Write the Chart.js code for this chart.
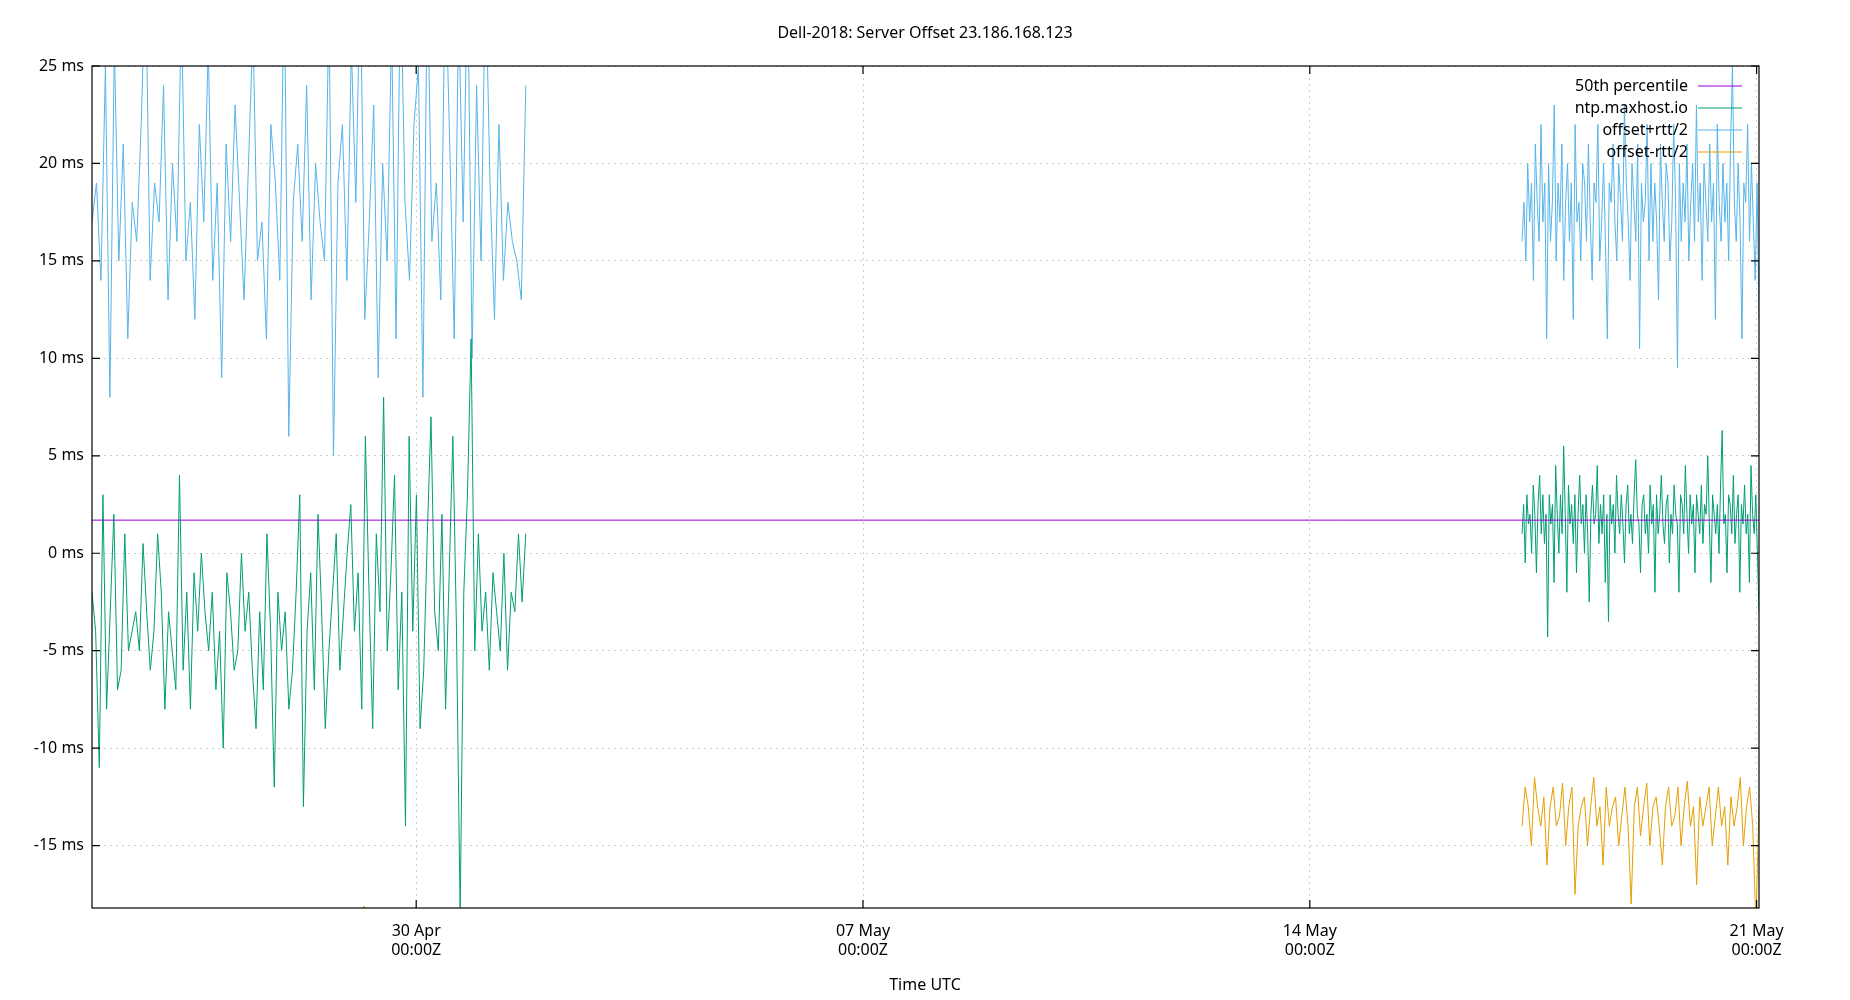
<!DOCTYPE html>
<html><head><meta charset="utf-8">
<script src="https://cdn.jsdelivr.net/npm/chart.js@4"></script>
<style>html,body{margin:0;background:#fff}</style></head>
<body><canvas id="c" width="1850" height="1000"></canvas>
<script>
// x in hours relative to 30 Apr 00:00Z
const xMin = -121.9, xMax = 504.9;
const xTicks = [0, 168, 336, 504];
const xTickLabels = [["30 Apr","00:00Z"],["07 May","00:00Z"],["14 May","00:00Z"],["21 May","00:00Z"]];
const yTicks = [-15,-10,-5,0,5,10,15,20,25];
const leftSpan = [-121.9, 41.2], rightSpan = [415.8, 504.9];
const median = 1.7;

const offsetLeft = [-2,-4,-11,3,-8,-3,2,-7,-6,1,-5,-4,-3,-5,0.5,-3,-6,-4,1,-2,-8,-3,-5,-7,4,-6,-2,-8,-1,-4,0,-3,-5,-2,-7,-4,-10,-1,-3,-6,-5,0,-4,-2,-6,-9,-3,-7,1,-4,-12,-2,-5,-3,-8,
 -6,-2,3,-13,-4,-1,-7,2,-3,-9,-5,-2,1,-6,-3,0,2.5,-4,-1,-8,6,-2,-9,1,-3,8,-5,-1,4,-7,-2,-14,6,-4,3,-9,-6,1,7,-3,-5,2,-8,-1,6,-4,-18.5,-2,3,11,-5,1,-4,-2,-6,-1,-3,-5,0,-6,-2,-3,1,-2.5,1];
const plusLeft = [17,19,14,25,8,26,15,21,11,18,16,22,30,14,19,17,24,13,20,16,28,15,18,12,22,17,26,14,19,9,21,16,23,18,13,20,27,15,17,11,22,19,14,30,6,18,21,16,24,13,20,17,15,28,5,19,22,14,26,18,30,12,17,23,9,20,15,27,11,30,18,14,22,25,8,30,16,19,13,30,21,11,28,17,30,10,24,15,30,19,12,22,14,18,16,15,13,24];
const minusLeft = [-25,-28,-31,-24,-27,-30,-26,-29,-33,-25,-27,-28,-24,-30,-26,-29,-27,-25,-31,-28,-26,-24,-29,-27,-30,-25,-28,-26,-32,-27,-24,-29,-26,-28,-30,-25,-27,-18.1,-26,-29,-31,-25,-28,-27,-24,-30,-26,-29,-27,-25,-33,-28,-26,-30,-27,-25,-29,-28,-26,-24];
const offsetRight = [1,2.5,-0.5,3,1.5,2,0,3.5,2,-1,2.5,4,1,3,0.5,2,-4.3,3,1.5,2.5,-1.5,4.5,2,0,3,1,5.5,2,-2,3.5,1.5,2.5,0.5,3,-1,2,4,1.5,2.5,0,3,1,-2.5,2,3.5,1.5,2,4.5,0.5,2.5,1,3,-1.5,2,-3.5,3,1.5,2.5,0,4,2,1,3,1.5,-0.5,2.5,3.5,1,2,0.5,3,4.8,2,1.5,-1,2.5,3,1,2,0,3.5,1.5,2.5,-2,3,1,2,4,1.5,0.5,2.5,3,-0.5,2,1,3.5,2,1.5,-2,3,2.5,1,4.5,2,0,3,1.5,2.5,-1,3,2,1,3.5,0.5,2.5,2,5,1.5,-1.5,3,2,1,2.5,0,3.5,6.3,1.5,2,-1,3,2.5,1,4,0.5,2,3,-2,2.5,1.5,3.5,1,2,-1.5,4.5,2,1,3,0,-3];
const plusRight = [16,18,15,20,17,19,14,21,18,16,22,17,19,11,20,16,18,23,15,19,17,21,14,18,20,16,19,12,22,17,18,15,20,19,16,21,17,14,19,18,22,15,17,20,16,11,19,18,21,17,15,20,18,16,23,19,17,14,20,18,16,21,10.5,19,17,18,22,15,20,16,19,17,13,21,18,16,20,19,15,17,22,18,9.5,20,16,19,17,21,15,18,20,16,23,17,19,14,20,18,16,21,17,19,12,22,18,16,20,17,19,15,21,25,18,16,20,17,11,19,18,22,16,20,17,14,19,12];
const minusRight = [-14,-12,-13,-15,-11.5,-13,-14,-12.5,-16,-13,-12,-14,-13.5,-11.8,-15,-13,-12,-17.5,-14,-13,-12.5,-15,-13,-11.5,-14,-13,-16,-12,-14,-13,-12.5,-15,-13.5,-12,-14,-18,-13,-12,-14.5,-13,-11.8,-15,-13,-12.5,-14,-16,-13,-12,-14,-13.5,-12,-15,-13,-11.7,-14,-13,-17,-12.5,-14,-13,-12,-15,-13.5,-12,-14,-13,-16,-12.5,-14,-13,-11.5,-15,-13,-12,-14,-19,-13];

function place(vals, span){
  const n = vals.length;
  return vals.map((v,i)=>({x: span[0] + (span[1]-span[0])*i/(n-1), y: v}));
}
function series(l, r){ return place(l,leftSpan).concat([{x:(leftSpan[1]+rightSpan[0])/2,y:null}], place(r,rightSpan)); }

const F = "'Noto Sans', sans-serif";
const legendItems = [["50th percentile","#9400d3"],["ntp.maxhost.io","#009e73"],["offset+rtt/2","#56b4e9"],["offset-rtt/2","#e69f00"]];

const deco = {
  id:'deco',
  afterDraw(ch){
    const c = ch.ctx, a = ch.chartArea;
    c.save();
    c.fillStyle='#000'; c.font='16px '+F; c.textAlign='center'; c.textBaseline='middle';
    c.fillText('Dell-2018: Server Offset 23.186.168.123', 925, 33);
    c.fillText('Time UTC', 925, 985);
    c.strokeStyle='#000'; c.lineWidth=1.2;
    c.strokeRect(a.left, a.top, a.right-a.left, a.bottom-a.top);
    const xs = ch.scales.x, ys = ch.scales.y;
    c.beginPath();
    xTicks.forEach(t=>{const px=xs.getPixelForValue(t); c.moveTo(px,a.bottom); c.lineTo(px,a.bottom-8); c.moveTo(px,a.top); c.lineTo(px,a.top+8);});
    yTicks.forEach(t=>{const py=ys.getPixelForValue(t); c.moveTo(a.left,py); c.lineTo(a.left+8,py); c.moveTo(a.right,py); c.lineTo(a.right-8,py);});
    c.stroke();
    c.textAlign='right'; c.font='16px '+F;
    legendItems.forEach((it,i)=>{
      const y = 86 + i*22;
      c.fillStyle='#000'; c.fillText(it[0], 1688, y);
      c.strokeStyle=it[1]; c.lineWidth=1.2; c.beginPath(); c.moveTo(1698,y); c.lineTo(1742,y); c.stroke();
    });
    c.restore();
  }
};

new Chart(document.getElementById('c'), {
  type:'line',
  data:{datasets:[
    {data:[{x:xMin,y:median},{x:xMax,y:median}], borderColor:'#9400d3', borderWidth:1, pointRadius:0},
    {data:series(offsetLeft,offsetRight), borderColor:'#009e73', borderWidth:1, pointRadius:0, spanGaps:false},
    {data:series(plusLeft,plusRight), borderColor:'#56b4e9', borderWidth:1, pointRadius:0, spanGaps:false},
    {data:series(minusLeft,minusRight), borderColor:'#e69f00', borderWidth:1, pointRadius:0, spanGaps:false}
  ]},
  options:{
    responsive:false, animation:false,
    layout:{padding:{top:66,right:91,left:0,bottom:0}},
    plugins:{legend:{display:false},tooltip:{enabled:false}},
    scales:{
      x:{type:'linear', min:xMin, max:xMax,
        afterBuildTicks(s){s.ticks = xTicks.map(v=>({value:v}));},
        afterFit(s){s.height=92;},
        border:{display:false, dash:[2,4]},
        grid:{color:'#d0d0d0', drawTicks:false, lineWidth:1},
        ticks:{font:{family:F,size:16}, color:'#000', padding:14, maxRotation:0,
          callback(v){const i=xTicks.indexOf(v); return i>=0?xTickLabels[i]:'';}}},
      y:{min:-18.2, max:25,
        afterBuildTicks(s){s.ticks = yTicks.map(v=>({value:v}));},
        afterFit(s){s.width=92;},
        border:{display:false, dash:[2,4]},
        grid:{color:'#d0d0d0', drawTicks:false, lineWidth:1},
        ticks:{font:{family:F,size:16}, color:'#000', padding:8, callback:v=>v+' ms'}}
    }
  },
  plugins:[deco]
});
</script></body></html>
